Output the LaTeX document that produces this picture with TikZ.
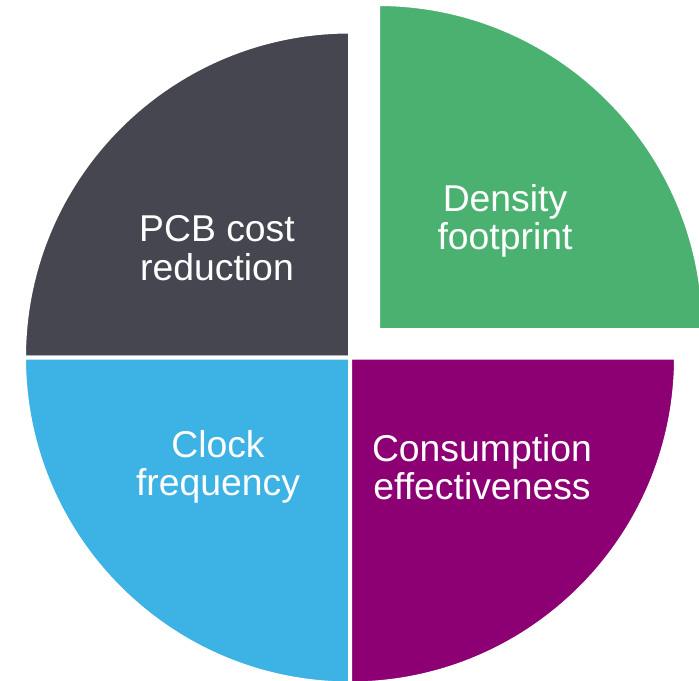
\documentclass[tikz,border=0pt]{standalone}
\usepackage{fontspec}
\setmainfont{Liberation Sans}
\definecolor{pcbgray}{RGB}{70,70,81}
\definecolor{densgreen}{RGB}{74,177,113}
\definecolor{clockblue}{RGB}{61,178,228}
\definecolor{conspurple}{RGB}{140,0,116}
\tikzset{every picture/.style={line width=0.75pt}}
\tikzset{
  slice/.style={draw=white, line width=3pt},
  slicetext/.style={text=white, align=center, inner sep=0.75pt, font=\fontsize{28}{28.8}\selectfont}
}

\begin{document}
\begin{tikzpicture}[x=0.75pt,y=0.75pt,yscale=-1,xscale=1]
        \useasboundingbox (0,0) rectangle (699,681);

        %Shape: Pie quarter [top left]
        \draw [slice, fill=pcbgray] (350,357.5) -- ++(180:326) arc [start angle=180, end angle=270, radius=326] -- cycle ;
        %Shape: Pie quarter [bottom left]
        \draw [slice, fill=clockblue] (350,357.5) -- ++(90:326) arc [start angle=90, end angle=180, radius=326] -- cycle ;
        %Shape: Pie quarter [bottom right]
        \draw [slice, fill=conspurple] (350,357.5) -- ++(0:326) arc [start angle=0, end angle=90, radius=326] -- cycle ;
        %Shape: Pie quarter [top right, pulled out]
        \draw [slice, fill=densgreen] (378,330) -- ++(270:326) arc [start angle=270, end angle=360, radius=326] -- cycle ;

        % Text Node
        \draw (217,248) node [slicetext] (pcb) {PCB cost\\reduction};
        % Text Node
        \draw (505,221) node [slicetext] (density) {Density\\footprint};
        % Text Node
        \draw (218,467) node [slicetext] (clock) {Clock\\frequency};
        % Text Node
        \draw (482,467) node [slicetext] (consumption) {Consumption\\effectiveness};

\end{tikzpicture}
\end{document}
